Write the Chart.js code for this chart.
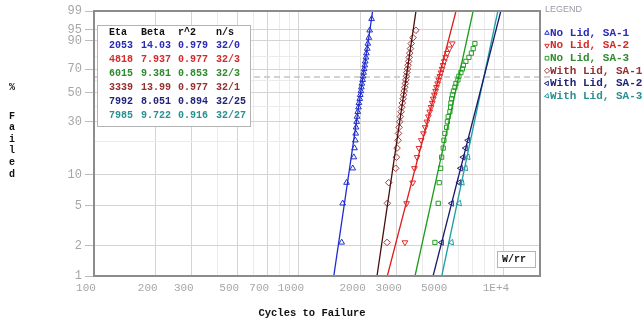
<!DOCTYPE html>
<html>
<head>
<meta charset="utf-8">
<script src="https://cdn.jsdelivr.net/npm/chart.js@4.4.0/dist/chart.umd.min.js"></script>
<style>
  html, body { margin:0; padding:0; background:#fff; }
  #wrap { width:644px; height:321px; position:relative; }
</style>
</head>
<body>
<div id="wrap"><canvas id="weibull" width="644" height="321"></canvas></div>
<script>
// Weibull fits for the six lid / sample-area groups
const seriesNames = ["No Lid, SA-1", "No Lid, SA-2", "No Lid, SA-3", "With Lid, SA-1", "With Lid, SA-2", "With Lid, SA-3"];
const etaVals = [2053, 4818, 6015, 3339, 7992, 7985];
const betaVals = [14.03, 7.937, 9.381, 13.99, 8.051, 9.722];
const rsqVals = [0.979, 0.977, 0.853, 0.977, 0.894, 0.916];
const nsVals = ["32/0", "32/3", "32/3", "32/1", "32/25", "32/27"];

// median rank (% failed) of the k-th failure
const rankPct = [2.16, 5.25, 8.33, 11.42, 14.51, 17.59, 20.68, 23.77, 26.85, 29.94, 33.02, 36.11,
  39.20, 42.28, 45.37, 48.46, 51.54, 54.63, 57.72, 60.80, 63.89, 66.98, 70.06, 73.15, 76.23,
  79.32, 82.41, 85.49, 88.58, 91.67, 94.75, 97.84];

// cycles to failure of each plotted failure
const noLid1 = [1616, 1634, 1707, 1830, 1852, 1868, 1884, 1892, 1900, 1912, 1920, 1936, 1952, 1962, 1980, 1990,
  2006, 2016, 2028, 2045, 2054, 2068, 2080, 2095, 2106, 2122, 2134, 2154, 2168, 2193, 2214, 2262];
const noLid2 = [3289, 3350, 3590, 3660, 3770, 3850, 3950, 4050, 4130, 4210, 4280, 4345, 4410, 4470, 4520,
  4580, 4640, 4690, 4750, 4810, 4870, 4930, 4990, 5050, 5120, 5200, 5290, 5420, 5600];
const noLid3 = [4607, 4781, 4835, 4913, 4968, 5057, 5097, 5154, 5253, 5300, 5348, 5451, 5495, 5514, 5557,
  5608, 5671, 5768, 5833, 5965, 6032, 6169, 6274, 6345, 6525, 6749, 6941, 7082, 7219];
const withLid1 = [2690, 2700, 2742, 2966, 2990, 3010, 3045, 3060, 3080, 3100, 3125, 3150, 3175, 3195, 3220, 3240,
  3262, 3285, 3305, 3322, 3345, 3362, 3385, 3405, 3428, 3450, 3472, 3500, 3530, 3600, 3720];
const withLid2 = [4966, 5560, 6050, 6150, 6330, 6500, 6680];
const withLid3 = [5550, 6055, 6250, 6500, 6670];
const failCycles = [noLid1, noLid2, noLid3, withLid1, withLid2, withLid3];

// fitted lines: cycles where each line meets 1% and 99%
const fitPct = [1, 99];
const fitLow = [1479, 2699, 3684, 2403, 4513, 4975];
const fitHigh = [2289, 5840, 7078, 3724, 9661, 9343];

// axis ticks
const xGridVals = [100, 200, 300, 400, 500, 600, 700, 800, 900, 1000, 2000, 3000, 4000, 5000, 6000, 7000, 8000, 9000, 10000];
const xLabels = { 100: "100", 200: "200", 300: "300", 500: "500", 700: "700", 1000: "1000", 2000: "2000", 3000: "3000", 5000: "5000", 10000: "1E+4" };
const yGridPct = [1, 2, 5, 10, 20, 30, 40, 50, 60, 70, 80, 90, 95, 99];
const yLabelPct = [1, 2, 5, 10, 30, 50, 70, 90, 95, 99];

// styles
const markColors = ["#2430c8", "#e02a2a", "#24a024", "#a03a3a", "#22227e", "#209a9a"];
const lineColors = ["#1f2bd0", "#e01c1c", "#1c9c1c", "#4a0c0c", "#18186e", "#1aa0a0"];
const textColors = ["#2a2ab5", "#d42a2a", "#2e8b2e", "#943030", "#23237a", "#2a9090"];
const markStyles = ["triangle", "triangle", "rect", "rectRot", "triangle", "triangle"];
const markRot = [0, 180, 0, 0, 30, 140];
const mono = '"Liberation Mono", "DejaVu Sans Mono", monospace';

// Weibull probability transform used for the y axis
const wy = p => Math.log(-Math.log(1 - p / 100));
const fromWy = v => 100 * (1 - Math.exp(-Math.exp(v)));

const datasets = [];
// lines first so they are drawn over the markers
for (let s = 0; s < 6; s++) {
  datasets.push({
    data: [{ x: fitLow[s], y: wy(fitPct[0]) }, { x: fitHigh[s], y: wy(fitPct[1]) }],
    showLine: true,
    borderColor: lineColors[s],
    borderWidth: 1.3,
    pointRadius: 0
  });
}
for (let s = 0; s < 6; s++) {
  datasets.push({
    data: failCycles[s].map((c, i) => ({ x: c, y: wy(rankPct[i]) })),
    showLine: false,
    pointStyle: markStyles[s],
    pointRotation: markRot[s],
    pointRadius: markStyles[s] === "rect" ? 3 : 3.3,
    pointBorderColor: markColors[s],
    pointBackgroundColor: "rgba(0,0,0,0)",
    pointBorderWidth: 1
  });
}

const decorations = {
  id: "decorations",
  beforeDatasetsDraw(chart) {
    const ctx = chart.ctx;
    const y = chart.scales.y.getPixelForValue(wy(63.2));
    ctx.save();
    ctx.strokeStyle = "#c4c4c4";
    ctx.lineWidth = 1.5;
    ctx.setLineDash([6, 4]);
    ctx.beginPath();
    ctx.moveTo(chart.chartArea.left, y);
    ctx.lineTo(550, y);
    ctx.stroke();
    ctx.restore();
  },
  afterDraw(chart) {
    const ctx = chart.ctx;
    const a = chart.chartArea;
    ctx.save();
    // plot frame
    ctx.strokeStyle = "#8c8c8c";
    ctx.lineWidth = 2;
    ctx.strokeRect(a.left, a.top, a.right - a.left, a.bottom - a.top);

    // fit table
    ctx.fillStyle = "#fff";
    ctx.fillRect(97, 25, 153, 101);
    ctx.strokeStyle = "#b4b4b4";
    ctx.lineWidth = 1;
    ctx.strokeRect(97.5, 25.5, 153, 101);
    ctx.font = "bold 10px " + mono;
    ctx.textBaseline = "middle";
    ctx.textAlign = "left";
    const cols = [109, 141, 178, 216];
    ctx.fillStyle = "#111";
    ["Eta", "Beta", "r^2", "n/s"].forEach((h, i) => ctx.fillText(h, cols[i], 32));
    for (let s = 0; s < 6; s++) {
      const y = 45.5 + s * 13.9;
      ctx.fillStyle = textColors[s];
      ctx.fillText(String(etaVals[s]), cols[0], y);
      ctx.fillText(String(betaVals[s]), cols[1], y);
      ctx.fillText(String(rsqVals[s]), cols[2], y);
      ctx.fillText(nsVals[s], cols[3], y);
    }

    // legend on the right
    ctx.font = "9px " + '"Liberation Sans", sans-serif';
    ctx.fillStyle = "#9a9aa8";
    ctx.fillText("LEGEND", 545, 10);
    ctx.font = "bold 11px " + mono;
    for (let s = 0; s < 6; s++) {
      const y = 33 + s * 12.6;
      ctx.strokeStyle = markColors[s];
      ctx.fillStyle = "rgba(0,0,0,0)";
      ctx.lineWidth = 1;
      Chart.helpers.drawPoint(ctx, { pointStyle: markStyles[s], radius: 2.6, rotation: markRot[s], borderWidth: 1 }, 547, y);
      ctx.fillStyle = textColors[s];
      ctx.fillText(seriesNames[s], 550, y);
    }

    // W/rr tag
    ctx.fillStyle = "#fff";
    ctx.fillRect(497, 251, 38, 16);
    ctx.strokeStyle = "#b4b4b4";
    ctx.strokeRect(497.5, 251.5, 38, 16);
    ctx.fillStyle = "#111";
    ctx.font = "bold 10px " + mono;
    ctx.fillText("W/rr", 502, 259.5);

    // axis titles
    ctx.textAlign = "center";
    ctx.font = "bold 10.5px " + mono;
    ctx.fillText("Cycles to Failure", 312, 313);
    ctx.font = "bold 10px " + mono;
    ctx.fillText("%", 12, 87);
    "Failed".split("").forEach((ch, i) => ctx.fillText(ch, 12, 116 + i * 11.6));
    ctx.restore();
  }
};

new Chart(document.getElementById("weibull"), {
  type: "scatter",
  data: { datasets: datasets },
  options: {
    responsive: false,
    animation: false,
    devicePixelRatio: 1,
    layout: { padding: { left: 0, right: 104, top: 11, bottom: 0 } },
    plugins: { legend: { display: false }, tooltip: { enabled: false } },
    scales: {
      x: {
        type: "logarithmic",
        min: 100,
        max: 15000,
        border: { display: false },
        afterBuildTicks: axis => { axis.ticks = xGridVals.map(v => ({ value: v })); },
        afterFit: axis => { axis.height = 45; },
        grid: {
          drawTicks: false,
          color: c => (c.tick && xLabels[c.tick.value]) ? "#d4d4d4" : "#ebebeb",
          lineWidth: 1
        },
        ticks: {
          autoSkip: false,
          maxRotation: 0,
          padding: 5,
          labelOffset: -8,
          color: "#a6a6a6",
          font: { family: mono, size: 11 },
          callback: v => xLabels[v] || ""
        }
      },
      y: {
        type: "linear",
        min: wy(1),
        max: wy(99),
        border: { display: false },
        afterBuildTicks: axis => { axis.ticks = yGridPct.map(p => ({ value: wy(p) })); },
        afterFit: axis => { axis.width = 94; },
        grid: {
          tickLength: 9,
          color: c => {
            const p = c.tick ? Math.round(fromWy(c.tick.value)) : 0;
            return yLabelPct.includes(p) ? "#d4d4d4" : "#ebebeb";
          },
          tickColor: c => {
            const p = c.tick ? Math.round(fromWy(c.tick.value)) : 0;
            return yLabelPct.includes(p) ? "#bdbdbd" : "rgba(0,0,0,0)";
          }
        },
        ticks: {
          autoSkip: false,
          padding: 3,
          color: "#a6a6a6",
          font: { family: mono, size: 12 },
          callback: v => {
            const p = Math.round(fromWy(v));
            return yLabelPct.includes(p) ? String(p) : "";
          }
        }
      }
    }
  },
  plugins: [decorations]
});
</script>
</body>
</html>
